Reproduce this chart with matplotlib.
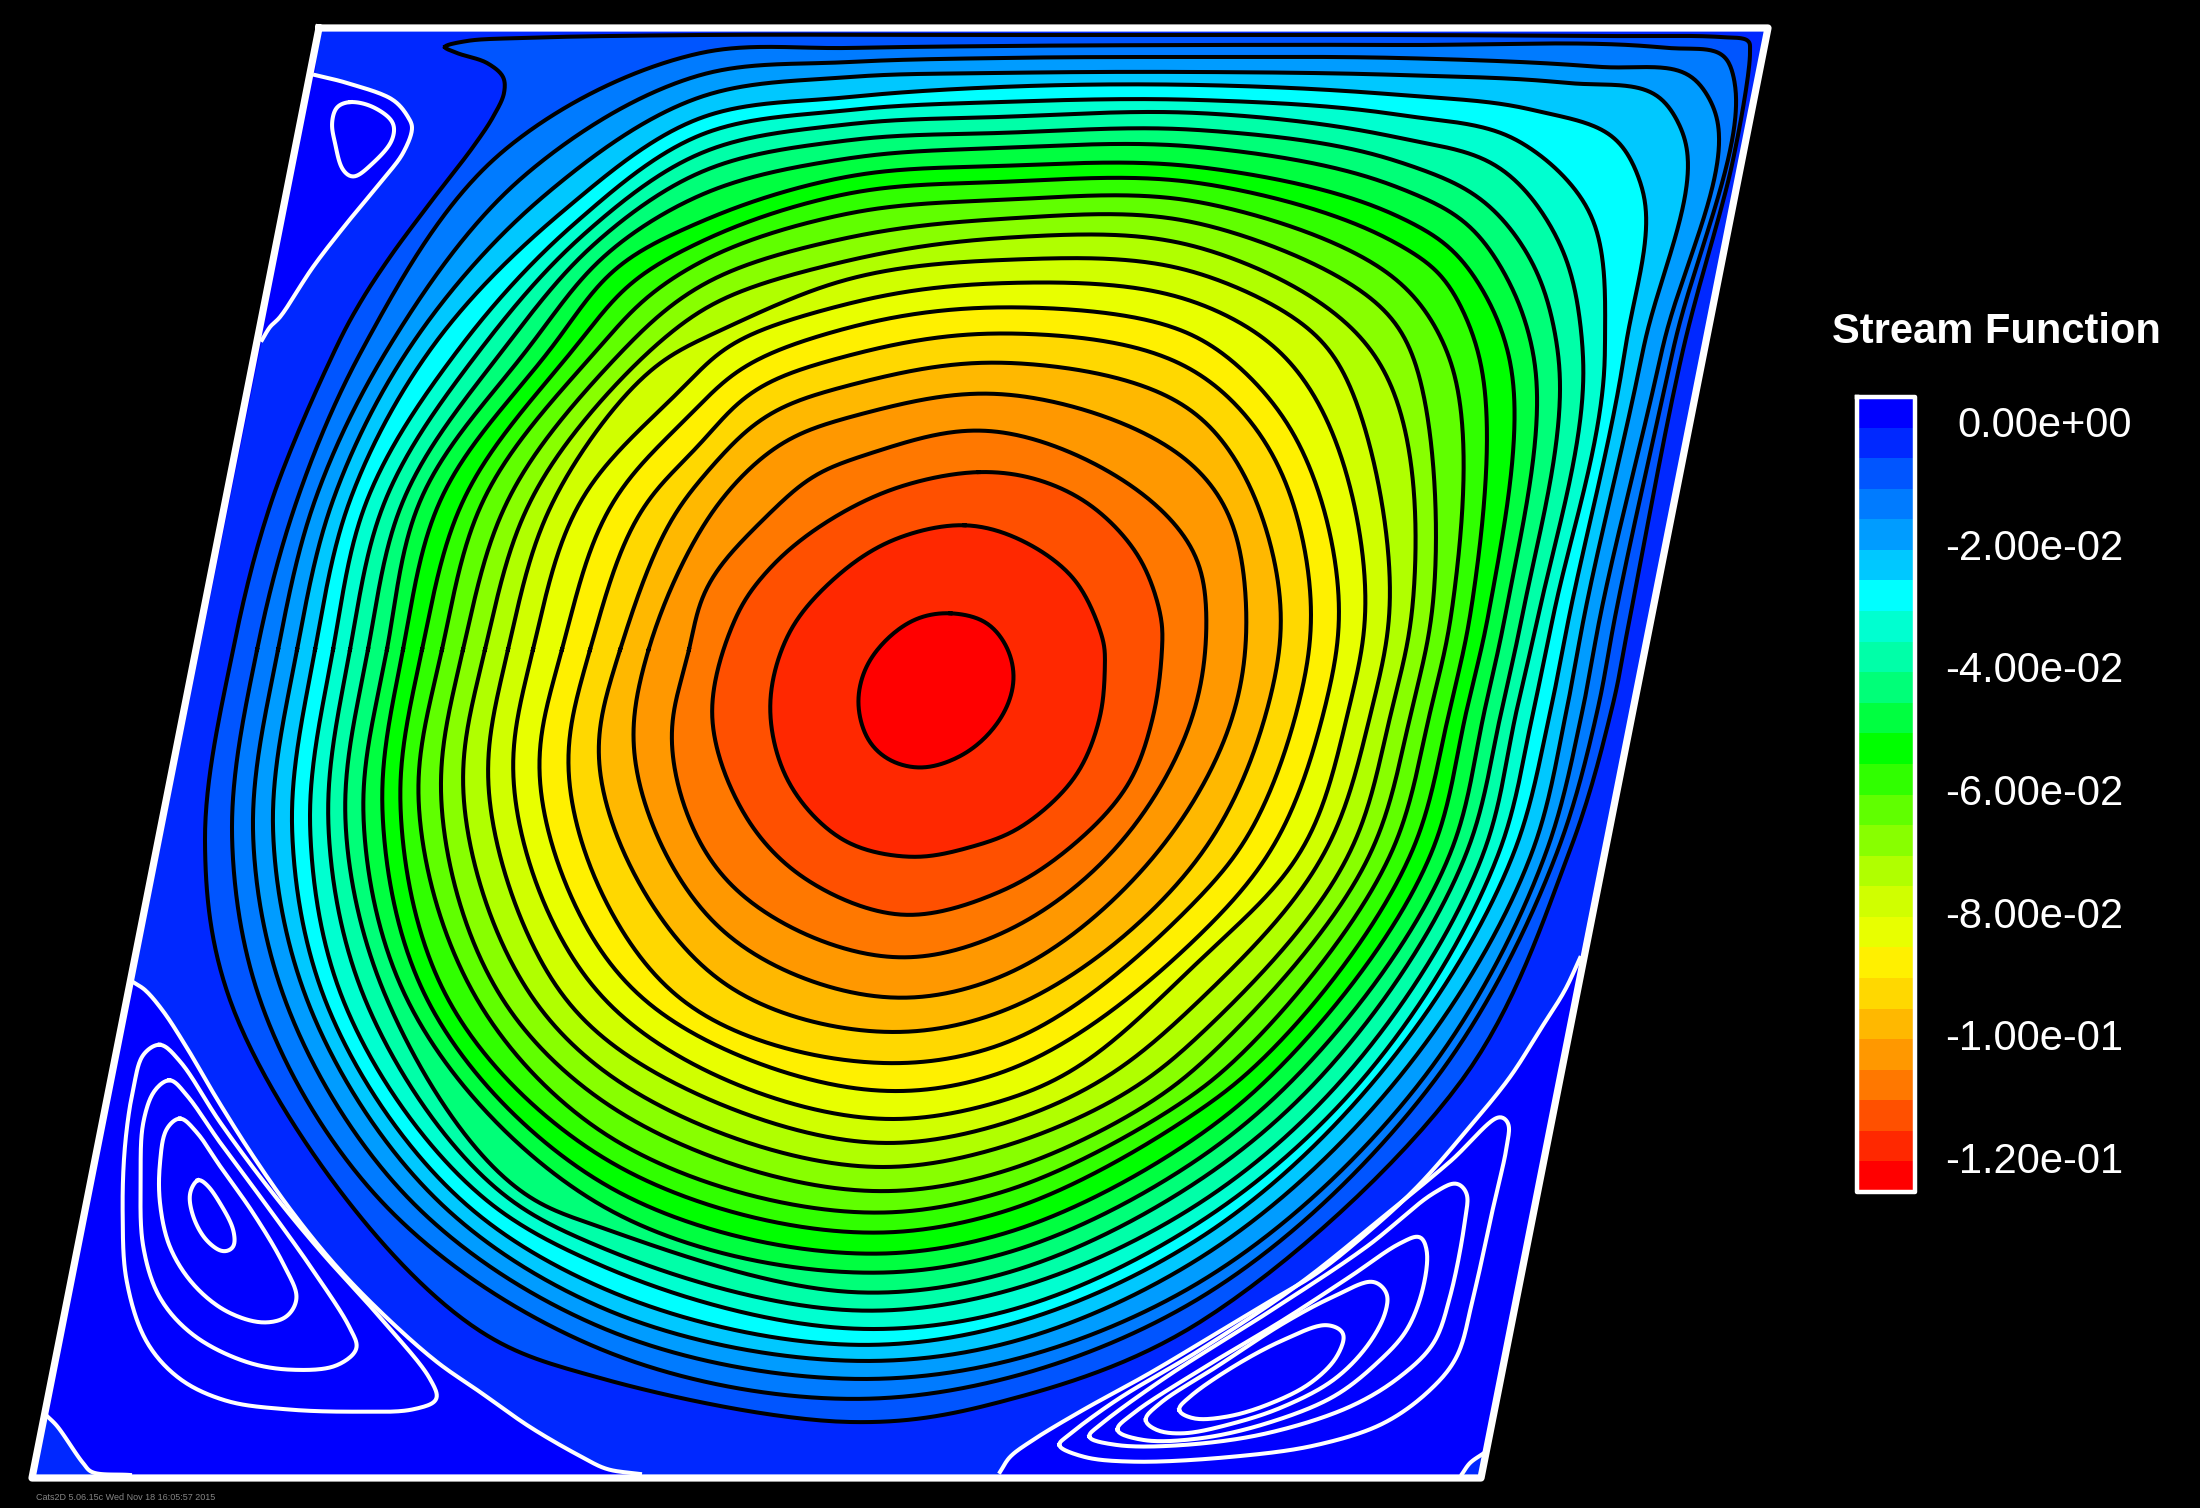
"""Stream function contours in a skewed lid driven cavity (Cats2D style plot)."""

import matplotlib
matplotlib.use('Agg')
import matplotlib.pyplot as plt
import numpy as np

N = float('nan')

# band colours, outermost (0) to the centre (25)
BAND_COLORS = [
    '#0000ff', '#0028ff', '#0055ff', '#007bff', '#009cff', '#00c8ff', '#00ffff',
    '#00ffd0', '#00ffa8', '#00ff78', '#00ff40', '#00ff00', '#30ff00', '#60ff00',
    '#88ff00', '#b0ff00', '#d0ff00', '#e8ff00', '#fff000', '#ffd800', '#ffb800',
    '#ff9800', '#ff7800', '#ff5000', '#ff2800', '#ff0000']
LEGEND_LABELS = ['0.00e+00', '-2.00e-02', '-4.00e-02', '-6.00e-02', '-8.00e-02',
                 '-1.00e-01', '-1.20e-01']

CAVITY_X = [319, 1768, 1481, 32, 319]
CAVITY_Y = [28, 28, 1478, 1478, 28]
CENTER = (937, 708)

# Where the black contours cross a few reference lines in
# image pixels. Entries go from the outermost contour inwards. The first one
# and the last three are traced on their own below.
TOP_X = [1000] * 19 + [1000, 985]
TOP_Y = [35, 46, 58, 73, 87, 102, 117, 133, 148, 166, 182, 200, 219, 238, 260,
         283, 307, 333, 362, 393, 429]
BOTTOM_X = [850, 852, 855, 858, 860, 862, 865, 868, 870, 872, 874, 876, 878,
            880, 882, 885, 888, 890, 893, 896, 900]
BOTTOM_Y = [1422, 1399, 1379, 1361, 1345, 1329, 1311, 1293, 1273, 1254, 1233,
            1213, 1192, 1168, 1144, 1120, 1092, 1064, 1033, 999, 959]
LEFT_X = [205, 232, 253, 273, 292, 310, 328, 345, 363, 382, 400, 418, 440, 462,
          487, 512, 538, 567, 597, 632, 670]
LEFT_Y = [840, 838, 835, 832, 829, 826, 822, 818, 812, 806, 800, 795, 790, 784,
          778, 772, 766, 760, 752, 742, 728]

AT_X850_Y = [36, 48, 62, 77, 97, 110, 124, 140, 158, 176, 193, 213, 237, 260,
             278, 303, 327, 355, 385, 417, 460]
AT_X1200_TOP_Y = [34, 45, 57, 72, 85, 100, 113, 130, 147, 167, 183, 202, 223,
                  247, 273, 303, 337, 373, 415, 470, 560]
AT_X1400_TOP_Y = [35, 45, 58, 75, 95, 115, 138, 162, 188, 217, 245, 282, N, N,
                  N, N, N, N, N, N, N]
SHOULDER_X = [N, 1667, 1600, 1567, 1533] + [N] * 16
SHOULDER_Y = [N, 48, 67, 83, 110] + [N] * 16
CORNER_IN_X = [N, 1727, 1693, 1660, 1617, 1517, 1500, 1483, 1467, 1450, 1440, 1420,
               1403, 1373, 1345, 1316, 1287, 1267, 1238, 1227, 1170]
CORNER_IN_Y = [N, 57, 77, 97, 140, 140, 167, 200, 223, 247, 273, 303,
               330, 350, 373, 397, 421, 443, 462, 507, 517]
CORNER_OUT_X = [N, 1733, 1712, 1682, 1642, 1587, 1560, 1533, 1510, 1487, 1463] + [N] * 10
CORNER_OUT_Y = [N, 73, 103, 130, 187, 207, 243, 263, 283, 297, 310] + [N] * 10
AT_Y350_RIGHT_X = [1683, 1673, 1662, 1643, 1625, 1605, 1583, 1558, 1533, 1508,
                   1478, 1447, 1412, N, 1332, 1280, 1220, N, N, N, N]
AT_Y617_X = [1630, 1615, 1600, 1584, 1569, 1553, 1538, 1522, 1505, 1488, 1470,
             1451, 1432, 1412, 1390, 1366, 1340, 1312, 1282, 1247, 1207]
AT_Y708_X = [1612, 1598, 1583, 1567, 1551, 1534, 1517, 1502, 1485, 1467, 1450,
             1431, 1412, 1392, 1372, 1349, 1325, 1298, 1268, 1236, 1196]
AT_Y850_X = [1570, 1558, 1547, 1533, 1515, 1500, 1485, 1468, 1452, 1433,
             1413, 1393, 1373, 1352, 1327, 1303, 1272, 1240, 1205, 1160, 1115]
AT_Y1080_X = [1462, 1435, 1422, 1397, 1375, 1362, 1342, 1318, 1293, 1267, 1240,
              1213, 1183, 1147, 1103, 1057, N, N, N, N, N]
AT_X1200_LOW_Y = [1322, 1298, 1282, 1258, 1238, 1222, 1203, 1180, 1158, 1135,
                  1110, 1090, 1065, 1035, 1000, 960, 935, 897, N, N, N]
AT_X1000_LOW_Y = [1402, 1380, 1363, 1345, 1327, 1313, 1293, 1275, 1255, 1235,
                  1213, 1193, 1173, 1148, 1125, 1102, 1074, 1046, 1013, 978, 935]
AT_X600_Y = [1378, 1349, 1327, 1307, 1287, 1265, 1247, 1227, 1205, 1182, 1156,
             1131, 1100, 1069, 1036, 996, 951, 891, N, N, N]
AT_Y1200_X = [347, 380, 410, 437, 461, 486, 510, 533] + [N] * 13
AT_Y1000_X = [230, 260, 285, 307, 325, 343, 365, 387, 407, 427, 448, 477, 502,
              533, 565, N, 643, 680, N, N, N]
AT_X720_LOW_Y = [N] * 18 + [982, 930, 875]
AT_Y650_X = [233, 257, 278, 297, 315, 333, 350, 368, 387, 403, 422, 442, 463,
             485, 508, 533, 562, 590, 620, 648, 690]
AT_Y500_X = [272, 297, 315, 333, 350, 367, 385, 403, 420, 440, 463, 483, 507,
             530, 553, 580, 613, 647, 683, 720, N]
UPPER_LEFT_X = [N, 502, 525, 545, 562, 574, 584, 594, 605, 617, 632, 647, 662,
                677, 693, 709, 727, 745, 765, 788, 820]
UPPER_LEFT_Y = [N, 152, 175, 195, 212, 224, 234, 244, 255, 267, 282, 297, 312,
                327, 343, 359, 377, 395, 415, 438, 470]
AT_X770_Y = [N] * 20 + [513]
AT_Y350_LEFT_X = [335, 362, 387, 408, 430, 458, 480, 503, 527, 550, 573, 597,
                  623, 650, 677, N, N, N, N, N, N]
AT_X700_Y = [35, 53, 75, 97, 118, 135, 153, 172, 195, 222, 242, 262, 285, 310,
             337, 370, 405, 445, 480, 530, 597]

# the outermost contour has a tail along the lid
OUTER_X = [445, 467, 520, 700, 1000, 1400, 1600, 1720, 1748, 1750, 1733, 1683,
           1630, 1612, 1570, 1462, 1200, 1000, 850, 600, 480, 347, 230, 205, 233,
           272, 335, 360, 390, 430, 473, 493, 504, 503, 487, 457]
OUTER_Y = [47, 41, 38, 35, 35, 35, 36, 37, 41, 52, 160, 350,
           617, 708, 850, 1080, 1322, 1402, 1422, 1378, 1331, 1200, 1000, 840, 650,
           500, 350, 303, 257, 203, 147, 117, 93, 77, 63, 53]

# the three innermost contours
INNER_LOOPS = [
    [(978, 472), (1039, 480), (1093, 507), (1139, 557), (1161, 617), (1162, 650), (1153, 717),
     (1129, 783), (1079, 840), (1004, 890), (903, 915), (807, 880), (746, 817), (712, 717),
     (736, 617), (771, 567), (825, 523), (896, 488)],
    [(964, 525), (1021, 540), (1075, 580), (1104, 643), (1105, 660), (1100, 717), (1075, 777),
     (1021, 827), (971, 847), (911, 857), (843, 840), (789, 783), (770, 707), (789, 633),
     (836, 577), (893, 540)],
    [(950, 613), (986, 622), (1007, 647), (1014, 677), (1007, 707), (986, 737), (957, 758),
     (921, 768), (889, 760), (868, 740), (858, 703), (866, 667), (889, 637), (918, 618)]]

# white contours and dividing lines, image pixels
TOP_LEFT_LINE = [(315, 75), (347, 83), (393, 100), (408, 117), (412, 128), (403, 153),
                 (380, 183), (347, 223), (313, 267), (280, 317), (270, 327), (262, 340)]
TOP_LEFT_LOOP = [(350, 102), (373, 107), (393, 123), (392, 140), (373, 163), (353, 177),
                 (343, 170), (335, 143), (332, 123), (337, 107)]
LEFT_LINE = [(133, 982), (145, 990), (163, 1011), (187, 1048), (217, 1099), (253, 1156),
             (293, 1213), (337, 1267), (387, 1318), (437, 1362), (480, 1392),
             (530, 1427), (580, 1456), (607, 1469), (640, 1474)]
RIGHT_LINE = [(1000, 1472), (1010, 1457), (1033, 1440), (1083, 1410), (1150, 1373),
              (1217, 1333), (1267, 1303), (1317, 1273), (1367, 1233), (1417, 1187),
              (1467, 1130), (1510, 1077), (1540, 1030), (1565, 990), (1580, 958)]
LEFT_CORNER = [(47, 1416), (57, 1426), (83, 1463), (92, 1472), (130, 1475)]
RIGHT_CORNER = [(1484, 1453), (1470, 1463), (1462, 1474)]

# loops of the two lower eddies, as crop pixels of their zoomed regions
LEFT_LOOPS = [
    [(420, 250), (370, 280), (340, 380), (315, 550), (308, 750), (320, 950), (380, 1130),
     (480, 1240), (620, 1305), (800, 1330), (1000, 1337), (1180, 1330), (1250, 1300),
     (1230, 1240), (1100, 1080), (900, 860), (750, 680), (600, 480), (480, 300)],
    [(450, 355), (405, 385), (370, 480), (362, 650), (370, 850), (420, 1000), (520, 1110),
     (680, 1190), (820, 1213), (950, 1200), (1010, 1150), (990, 1090), (880, 920),
     (750, 740), (600, 540), (500, 400)],
    [(480, 468), (440, 500), (420, 600), (420, 720), (450, 850), (520, 960), (620, 1040),
     (730, 1073), (800, 1055), (830, 1000), (790, 900), (700, 750), (600, 610), (530, 510)],
    [(535, 650), (510, 690), (520, 760), (560, 830), (610, 863), (640, 850), (640, 800),
     (600, 720), (560, 665)]]
RIGHT_LOOPS = [
    [(175, 1095), (200, 1070), (350, 960), (600, 810), (900, 610), (1150, 410), (1350, 245),
     (1500, 110), (1525, 130), (1520, 200), (1480, 380), (1420, 650), (1370, 830),
     (1290, 930), (1150, 1030), (950, 1095), (700, 1130), (400, 1145), (250, 1130)],
    [(265, 1070), (300, 1035), (500, 890), (800, 700), (1100, 500), (1300, 340), (1370, 310),
     (1400, 340), (1395, 420), (1350, 650), (1300, 790), (1200, 890), (1050, 980),
     (800, 1060), (550, 1095), (350, 1095)],
    [(350, 1050), (400, 1000), (600, 870), (850, 720), (1050, 590), (1200, 490), (1260, 470),
     (1280, 510), (1270, 620), (1220, 750), (1130, 850), (1000, 950), (800, 1030),
     (600, 1075), (430, 1080)],
    [(435, 1020), (480, 970), (650, 860), (850, 730), (1000, 650), (1120, 605), (1160, 640),
     (1155, 700), (1100, 800), (1000, 900), (850, 980), (700, 1030), (550, 1060), (470, 1050)],
    [(535, 990), (570, 950), (700, 860), (850, 780), (980, 735), (1030, 760), (1010, 830),
     (930, 910), (800, 975), (680, 1010), (580, 1015)]]


def _main():

    fig = plt.figure(figsize=(22, 15.08), dpi=100, facecolor='black')
    ax = fig.add_axes([0, 0, 1, 1])
    ax.set_xlim(0, 2200)
    ax.set_ylim(1508, 0)
    ax.axis('off')

    _plot_cavity(ax)
    _plot_contours(ax)
    _plot_white_lines(ax)
    ax.plot(CAVITY_X, CAVITY_Y, color='white', lw=5.2, solid_joinstyle='round')
    _plot_legend(ax)

    ax.text(36, 1498, 'Cats2D 5.06.15c Wed Nov 18 16:05:57 2015', color='#858585',
            fontsize=6.5, family='Liberation Sans', va='center')

    fig.savefig('out.png', dpi=100, facecolor='black')


def _plot_cavity(ax):

    ax.fill(CAVITY_X, CAVITY_Y, color=BAND_COLORS[0], lw=0)

    # everything outside the corner eddies is one level further in
    x0, x1 = CAVITY_X[0], CAVITY_X[1]
    top_left = _smooth_open(TOP_LEFT_LINE)
    left = _smooth_open(LEFT_LINE)
    right = _smooth_open(RIGHT_LINE)
    xs = np.concatenate([[x0, x1], right[0][::-1], [1000, 640], left[0][::-1],
                         top_left[0][::-1], [315]])
    ys = np.concatenate([[28, 28], right[1][::-1], [1478, 1478], left[1][::-1],
                         top_left[1][::-1], [75]])
    ax.fill(xs, ys, color=BAND_COLORS[1], lw=0)

    for corner, tip in [(LEFT_CORNER, (32, 1478)), (RIGHT_CORNER, (1481, 1478))]:
        x, y = _smooth_open(corner)
        ax.fill(np.append(x, tip[0]), np.append(y, tip[1]), color=BAND_COLORS[1], lw=0)


def _plot_contours(ax):

    count = len(TOP_Y) + len(INNER_LOOPS)

    for i in range(count):
        x, y = _get_contour(i)
        ax.fill(x, y, color=BAND_COLORS[i + 2], lw=0)
        ax.plot(x, y, color='black', lw=2.9)


def _get_contour(i):

    if i == 0:
        return _smooth_closed(OUTER_X, OUTER_Y)

    if i >= len(TOP_Y):
        points = np.array(INNER_LOOPS[i - len(TOP_Y)], dtype=float)
        return _blur(*_smooth_closed(points[:, 0], points[:, 1]), 8)

    points = [
        (TOP_X[i], TOP_Y[i]), (BOTTOM_X[i], BOTTOM_Y[i]), (LEFT_X[i], LEFT_Y[i]),
        (850, AT_X850_Y[i]), (1200, AT_X1200_TOP_Y[i]), (1400, AT_X1400_TOP_Y[i]),
        (SHOULDER_X[i], SHOULDER_Y[i]),
        (CORNER_IN_X[i], CORNER_IN_Y[i]), (CORNER_OUT_X[i], CORNER_OUT_Y[i]),
        (AT_Y350_RIGHT_X[i], 350), (AT_Y617_X[i], 617), (AT_Y708_X[i], 708),
        (AT_Y850_X[i], 850), (AT_Y1080_X[i], 1080),
        (1200, AT_X1200_LOW_Y[i]), (1000, AT_X1000_LOW_Y[i]), (600, AT_X600_Y[i]),
        (AT_Y1200_X[i], 1200), (AT_Y1000_X[i], 1000), (720, AT_X720_LOW_Y[i]),
        (AT_Y650_X[i], 650), (AT_Y500_X[i], 500), (770, AT_X770_Y[i]),
        (UPPER_LEFT_X[i], UPPER_LEFT_Y[i]), (AT_Y350_LEFT_X[i], 350),
        (700, AT_X700_Y[i])]

    points = np.array(points, dtype=float)
    points = points[~np.isnan(points).any(axis=1)]

    # the crossings come from separate rays, so put them in order round the centre
    angles = np.arctan2(points[:, 1] - CENTER[1], points[:, 0] - CENTER[0])
    points = points[np.argsort(angles)]

    keep = [points[0]]
    for p in points[1:]:
        if np.hypot(*(p - keep[-1])) > 10:
            keep.append(p)
    points = np.array(keep)

    x, y = _smooth_closed(points[:, 0], points[:, 1], .85)
    sigma = 9 if i < 6 else 16 if i < 12 else 24
    return _blur(x, y, sigma)


def _plot_white_lines(ax):

    for line in [TOP_LEFT_LINE, LEFT_LINE, RIGHT_LINE, LEFT_CORNER, RIGHT_CORNER]:
        x, y = _smooth_open(line)
        ax.plot(x, y, color='white', lw=2.9)

    _plot_loop(ax, TOP_LEFT_LOOP)

    for loop in LEFT_LOOPS:
        points = np.array(loop, dtype=float)
        _plot_loop(ax, np.column_stack([20 + points[:, 0] / 3, 960 + points[:, 1] / 2.96]))

    for loop in RIGHT_LOOPS:
        points = np.array(loop, dtype=float)
        _plot_loop(ax, np.column_stack([1000 + points[:, 0] / 3, 1080 + points[:, 1] / 3]))


def _plot_loop(ax, points):
    points = np.array(points, dtype=float)
    x, y = _blur(*_smooth_closed(points[:, 0], points[:, 1]), 3)
    ax.plot(x, y, color='white', lw=2.9)


def _plot_legend(ax):

    top, bottom = 397, 1192
    height = (bottom - top) / len(BAND_COLORS)
    for i, color in enumerate(BAND_COLORS):
        ax.bar(1886, height + .5, width=58, bottom=top + i * height, color=color, lw=0)
    ax.plot([1857, 1915, 1915, 1857, 1857], [top, top, bottom, bottom, top],
            color='white', lw=3.2, solid_joinstyle='round')

    ax.text(1996, 332, 'Stream Function', color='white', fontsize=30,
            family='Liberation Sans', fontweight='bold', ha='center', va='center')

    for i, label in enumerate(LEGEND_LABELS):
        x = 1957 if i == 0 else 1945
        ax.text(x, 426 + i * 122.7, label, color='white', fontsize=30,
                family='Liberation Sans', va='center')


def _blur(x, y, sigma):

    """Smooths a closed curve along its length, sigma in pixels."""

    lengths = np.concatenate([[0], np.cumsum(np.hypot(np.diff(x), np.diff(y)))])
    s = np.arange(0, lengths[-1], 2.)
    xs = np.interp(s, lengths, x)
    ys = np.interp(s, lengths, y)

    radius = int(4 * sigma / 2.)
    kernel = np.exp(-.5 * (np.arange(-radius, radius + 1) * 2. / sigma) ** 2)
    kernel /= kernel.sum()

    xs = np.convolve(np.concatenate([xs[-radius:], xs, xs[:radius]]), kernel, 'valid')
    ys = np.convolve(np.concatenate([ys[-radius:], ys, ys[:radius]]), kernel, 'valid')

    return np.append(xs, xs[0]), np.append(ys, ys[0])


def _smooth_closed(x, y, power=.5):
    x = np.asarray(x, dtype=float)
    y = np.asarray(y, dtype=float)
    n = len(x)
    indices = np.arange(-1, n + 2) % n
    return _catmull_rom(x[indices], y[indices], power)


def _smooth_open(points):
    points = np.array(points, dtype=float)
    x = np.concatenate([[points[0, 0]], points[:, 0], [points[-1, 0]]])
    y = np.concatenate([[points[0, 1]], points[:, 1], [points[-1, 1]]])
    x[0] += points[0, 0] - points[1, 0]
    y[0] += points[0, 1] - points[1, 1]
    x[-1] += points[-1, 0] - points[-2, 0]
    y[-1] += points[-1, 1] - points[-2, 1]
    return _catmull_rom(x, y, .5)


def _catmull_rom(x, y, power, steps=16):

    """Catmull-Rom spline through all points but the first and last."""

    p = np.column_stack([x, y])
    xs, ys = [], []

    for i in range(1, len(p) - 2):

        t0 = 0.
        t1 = t0 + np.hypot(*(p[i] - p[i - 1])) ** power
        t2 = t1 + np.hypot(*(p[i + 1] - p[i])) ** power
        t3 = t2 + np.hypot(*(p[i + 2] - p[i + 1])) ** power

        t = np.linspace(t1, t2, steps, endpoint=False)[:, None]
        a1 = ((t1 - t) * p[i - 1] + (t - t0) * p[i]) / (t1 - t0)
        a2 = ((t2 - t) * p[i] + (t - t1) * p[i + 1]) / (t2 - t1)
        a3 = ((t3 - t) * p[i + 1] + (t - t2) * p[i + 2]) / (t3 - t2)
        b1 = ((t2 - t) * a1 + (t - t0) * a2) / (t2 - t0)
        b2 = ((t3 - t) * a2 + (t - t1) * a3) / (t3 - t1)
        c = ((t2 - t) * b1 + (t - t1) * b2) / (t2 - t1)

        xs.append(c[:, 0])
        ys.append(c[:, 1])

    return np.concatenate(xs + [p[-2:-1, 0]]), np.concatenate(ys + [p[-2:-1, 1]])


if __name__ == '__main__':
    _main()
